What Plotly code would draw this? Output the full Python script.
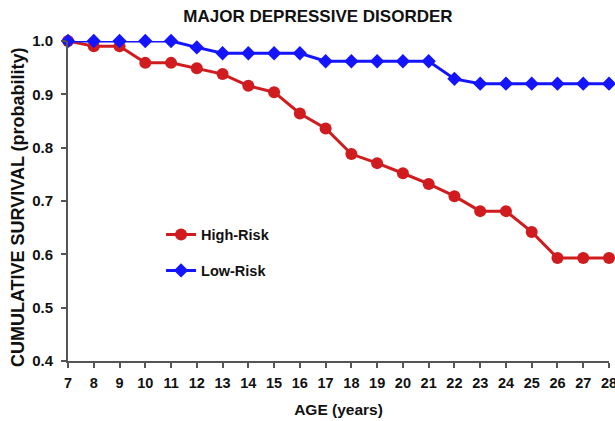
import plotly.graph_objects as go

# Age in years
ages = list(range(7, 29))

# Cumulative survival (probability) by risk group
high_risk = [1.000, 0.990, 0.990, 0.959, 0.959, 0.949, 0.938, 0.916, 0.904, 0.864,
             0.836, 0.788, 0.771, 0.752, 0.732, 0.709, 0.681, 0.681, 0.642, 0.593,
             0.593, 0.593]
low_risk = [1.000, 1.000, 1.000, 1.000, 1.000, 0.988, 0.977, 0.977, 0.977, 0.977,
            0.962, 0.962, 0.962, 0.962, 0.962, 0.929, 0.920, 0.920, 0.920, 0.920,
            0.920, 0.920]

y_ticks = [0.4, 0.5, 0.6, 0.7, 0.8, 0.9, 1.0]

FONT = "Arial, Liberation Sans, sans-serif"
RED = "#d01c1f"
BLUE = "#1414ff"
AXIS = "#555555"
TEXT = "#111111"

fig = go.Figure()
fig.add_trace(go.Scatter(
    x=ages, y=high_risk, name="High-Risk", mode="lines+markers",
    line=dict(color=RED, width=3),
    marker=dict(symbol="circle", size=12, color=RED),
    cliponaxis=False, legendgroup="a",
))
fig.add_trace(go.Scatter(
    x=ages, y=low_risk, name="Low-Risk", mode="lines+markers",
    line=dict(color=BLUE, width=3),
    marker=dict(symbol="diamond", size=11, color=BLUE),
    cliponaxis=False, legendgroup="b",
))

fig.update_layout(
    width=615, height=421,
    margin=dict(l=68, r=6, t=41, b=60),
    paper_bgcolor="white", plot_bgcolor="white",
    font=dict(family=FONT, color=TEXT),
    title=dict(text="<b>MAJOR DEPRESSIVE DISORDER</b>", x=0.517, xanchor="center",
               y=1 - 16.5 / 421, yanchor="middle", yref="container",
               font=dict(size=17, color=TEXT)),
    showlegend=True,
    legend=dict(x=0.172, y=0.445, xanchor="left", yanchor="top",
                bgcolor="rgba(0,0,0,0)", traceorder="grouped", tracegroupgap=14,
                font=dict(size=14.5, weight=700, color=TEXT),
                itemwidth=30),
    # vertical axis title, placed slightly below the plot's mid-height
    annotations=[dict(
        text="<b>CUMULATIVE SURVIVAL (probability)</b>", textangle=-90,
        xref="paper", yref="paper", x=-0.0924, y=0.481,
        xanchor="center", yanchor="middle", showarrow=False,
        font=dict(size=18, color=TEXT),
    )],
)

fig.update_xaxes(
    range=[7, 28], tickmode="array", tickvals=ages, automargin=False,
    showgrid=False, zeroline=False, showline=True, linecolor=AXIS, linewidth=2,
    ticks="outside", ticklen=5, tickwidth=2, tickcolor=AXIS,
    tickfont=dict(size=14.5, weight=700, color=TEXT),
    ticklabeloverflow="allow", ticklabelstandoff=3,
    title=dict(text="<b>AGE (years)</b>", font=dict(size=15.5, color=TEXT), standoff=14),
)
fig.update_yaxes(
    range=[0.4, 1.0], tickmode="array", tickvals=y_ticks, automargin=False,
    ticktext=[f"{v:.1f}" for v in y_ticks],
    showgrid=False, zeroline=False, showline=True, linecolor=AXIS, linewidth=2,
    ticks="outside", ticklen=5, tickwidth=2, tickcolor=AXIS,
    tickfont=dict(size=15, weight=700, color=TEXT),
    ticklabelstandoff=5,
)

fig.write_html("out.html")
